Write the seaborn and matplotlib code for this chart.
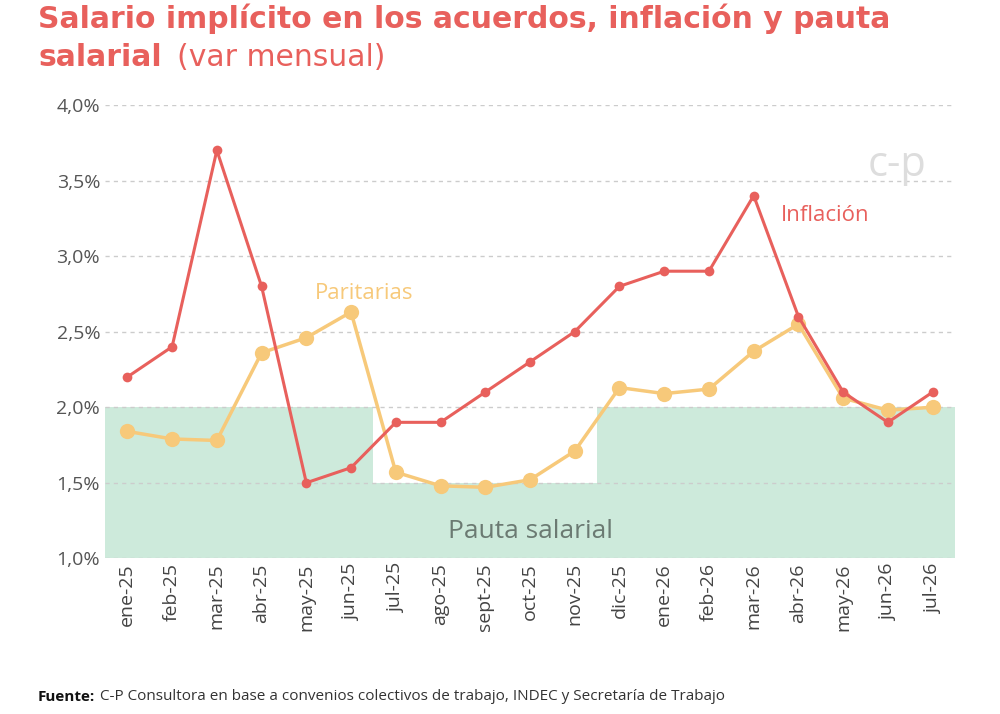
import matplotlib
matplotlib.use("Agg")
import matplotlib.pyplot as plt
import seaborn as sns
import numpy as np
import pandas as pd

months = ["ene-25","feb-25","mar-25","abr-25","may-25","jun-25","jul-25","ago-25","sept-25","oct-25","nov-25","dic-25",
          "ene-26","feb-26","mar-26","abr-26","may-26","jun-26","jul-26"]
inflacion = [2.2,2.4,3.7,2.8,1.5,1.6,1.9,1.9,2.1,2.3,2.5,2.8,2.9,2.9,3.4,2.6,2.1,1.9,2.1]
paritarias = [1.84,1.79,1.78,2.36,2.46,2.63,1.57,1.48,1.47,1.52,1.71,2.13,2.09,2.12,2.37,2.55,2.06,1.98,2.0]
pauta = [2.0,2.0,2.0,2.0,2.0,2.0,1.5,1.5,1.5,1.5,1.5,2.0,2.0,2.0,2.0,2.0,2.0,2.0,2.0]

sns.set_theme(style="white")
plt.rcParams['font.family'] = ['Open Sans', 'DejaVu Sans']
fig = plt.figure(figsize=(10, 7.14), dpi=100)
ax = fig.add_axes([0.105, 0.218, 0.85, 0.635])

x = np.arange(len(months))
xe = np.concatenate([[-0.5], x, [len(months)-0.5]])
pe = [pauta[0]] + pauta + [pauta[-1]]
ax.fill_between(xe, 1.0, pe, step="mid", color="#cdeadb", lw=0, zorder=0)

df = pd.DataFrame({"m": x, "inf": inflacion, "par": paritarias})
red = "#e8605c"; yel = "#f7c97a"
sns.lineplot(data=df, x="m", y="par", color=yel, lw=2.5, marker="o", markersize=11,
             markeredgewidth=0, ax=ax, zorder=3)
sns.lineplot(data=df, x="m", y="inf", color=red, lw=2.2, marker="o", markersize=7,
             markeredgewidth=0, ax=ax, zorder=4)

ax.set_xlim(-0.5, len(months)-0.5)
ax.set_ylim(1.0, 4.0)
ax.set_yticks(np.arange(1.0, 4.01, 0.5))
ax.set_yticklabels([f"{v:.1f}%".replace(".", ",") for v in np.arange(1.0, 4.01, 0.5)], fontsize=14, color="#555555")
ax.set_xticks(x)
ax.set_xticklabels(months, rotation=90, fontsize=14, color="#444444")
ax.set_xlabel(""); ax.set_ylabel("")
ax.yaxis.grid(True, ls=(0, (3, 3)), color="#cccccc", lw=1)
for s in ax.spines.values():
    s.set_visible(False)
ax.tick_params(length=0)

ax.text(5.3, 2.68, "Paritarias", color=yel, fontsize=16, ha="center", va="bottom")
ax.text(14.6, 3.2, "Inflación", color=red, fontsize=16, ha="left", va="bottom")
ax.text(9.0, 1.18, "Pauta salarial", color="#6b7a72", fontsize=19, ha="center", va="center")
ax.text(17.2, 3.6, "c-p", color="#dddddd", fontsize=30, ha="center", va="center")

tf = ["DejaVu Sans"]
fig.text(0.038, 0.995, "Salario implícito en los acuerdos, inflación y pauta", color="#e8605c",
         fontsize=21.5, fontweight="bold", va="top", family=tf)
fig.text(0.038, 0.94, "salarial", color="#e8605c", fontsize=21.5, fontweight="bold", va="top", family=tf)
fig.text(0.177, 0.94, "(var mensual)", color="#e8605c", fontsize=21.5, va="top", family=tf)
fig.text(0.038, 0.024, "Fuente:", fontsize=11, fontweight="bold", color="#111111", va="center")
fig.text(0.1, 0.024, "C-P Consultora en base a convenios colectivos de trabajo, INDEC y Secretaría de Trabajo",
         fontsize=11, color="#333333", va="center")
fig.savefig("out.png", dpi=100, facecolor="white")
